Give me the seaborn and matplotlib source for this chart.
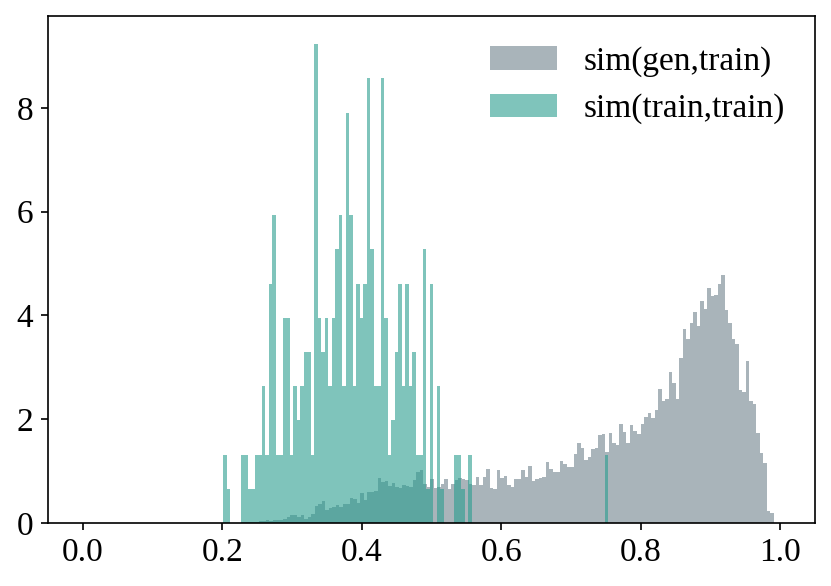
import numpy as np
import pandas as pd
import seaborn as sns
import matplotlib.pyplot as plt

# %% Data
# sim(train,train): counts per bin (110 bins between teal_lo and teal_hi)
teal_lo, teal_hi = 0.2010, 0.7537
teal_counts = [
    2, 1, 0, 0, 0, 2, 2, 1, 1, 2,
    2, 4, 2, 7, 9, 2, 2, 6, 6, 2,
    4, 3, 4, 5, 5, 2, 14, 6, 5, 6,
    4, 6, 8, 9, 4, 12, 9, 4, 7, 6,
    7, 13, 8, 4, 4, 13, 6, 2, 3, 5,
    7, 4, 7, 4, 5, 2, 2, 8, 1, 7,
    0, 4, 1, 0, 0, 0, 2, 2, 1, 0,
    2, 0, 0, 0, 0, 0, 0, 0, 0, 0,
    0, 0, 0, 0, 0, 0, 0, 0, 0, 0,
    0, 0, 0, 0, 0, 0, 0, 0, 0, 0,
    0, 0, 0, 0, 0, 0, 0, 0, 0, 2,
]

# sim(gen,train): density per bin (152 bins between gray_lo and gray_hi)
gray_lo, gray_hi = 0.2270, 0.9907
gray_density = [
    0.01, 0.01, 0.02, 0.02, 0.02, 0.03,
    0.04, 0.05, 0.04, 0.06, 0.06, 0.05, 0.07,
    0.12, 0.16, 0.16, 0.12, 0.16, 0.08, 0.12, 0.18,
    0.32, 0.37, 0.42, 0.26, 0.28, 0.31, 0.34, 0.31, 0.37, 0.37,
    0.49, 0.47, 0.39, 0.57, 0.45, 0.60, 0.60, 0.62,
    0.86, 0.79, 0.80, 0.71, 0.78, 0.69, 0.68, 0.74, 0.72, 0.70,
    0.83, 0.98, 1.02, 0.76, 0.70, 0.84, 0.67, 0.70, 0.76, 0.85,
    0.66, 0.76, 0.82, 0.86, 0.84, 0.83,
    0.76, 0.74, 0.88, 0.73, 0.88, 1.04, 0.68, 0.65, 1.02, 0.86,
    0.90, 0.74, 0.70, 0.84, 0.84, 1.02, 0.88, 1.09, 0.81, 0.84,
    0.87, 0.89, 1.18, 1.04, 0.98, 0.99, 1.20, 1.13, 1.07, 1.07,
    1.33, 1.54, 1.44, 1.21, 1.27, 1.42, 1.45, 1.70, 1.71,
    1.36, 1.74, 1.54, 1.51, 1.91, 1.76, 1.55, 1.88, 1.78, 1.72,
    1.91, 2.05, 2.12, 2.03, 2.18, 2.59, 2.36, 2.38, 2.91, 2.69,
    2.39, 3.18, 3.73, 3.55, 3.86, 4.07, 3.80, 4.27, 4.13, 4.53,
    4.38, 4.39, 4.61, 4.78, 4.11, 3.85, 3.54, 3.44, 2.57, 2.53,
    3.13, 2.36, 2.30, 1.74, 1.34, 1.15, 0.23, 0.19,
]

x_ticks = [0.0, 0.2, 0.4, 0.6, 0.8, 1.0]
y_ticks = [0, 2, 4, 6, 8]


def bin_centers(lo, hi, n):
    edges = np.linspace(lo, hi, n + 1)
    return (edges[:-1] + edges[1:]) / 2


df_gray = pd.DataFrame({
    "sim": bin_centers(gray_lo, gray_hi, len(gray_density)),
    "w": gray_density,
})
df_teal = pd.DataFrame({
    "sim": bin_centers(teal_lo, teal_hi, len(teal_counts)),
    "w": teal_counts,
})

# %% Plot
plt.rcParams["font.family"] = ["Liberation Serif", "DejaVu Serif"]
plt.rcParams["font.size"] = 16

fig, ax = plt.subplots(figsize=(831 / 150, 586 / 150), dpi=150)
fig.subplots_adjust(left=0.0578, right=0.9807, bottom=0.1075, top=0.9727)

sns.histplot(
    data=df_gray, x="sim", weights="w", bins=len(gray_density),
    binrange=(gray_lo, gray_hi), stat="count", linewidth=0,
    color="#70838c", alpha=0.6, label="sim(gen,train)", ax=ax
)
sns.histplot(
    data=df_teal, x="sim", weights="w", bins=len(teal_counts),
    binrange=(teal_lo, teal_hi), stat="density", linewidth=0,
    color="#2a9d8f", alpha=0.6, label="sim(train,train)", ax=ax
)

ax.set_xlim(-0.05, 1.05)
ax.set_ylim(0, 9.77)
ax.set_xticks(x_ticks)
ax.set_yticks(y_ticks)
ax.set_xlabel("")
ax.set_ylabel("")
ax.legend(loc="upper right", frameon=False)

fig.savefig("out.png", dpi=150)
